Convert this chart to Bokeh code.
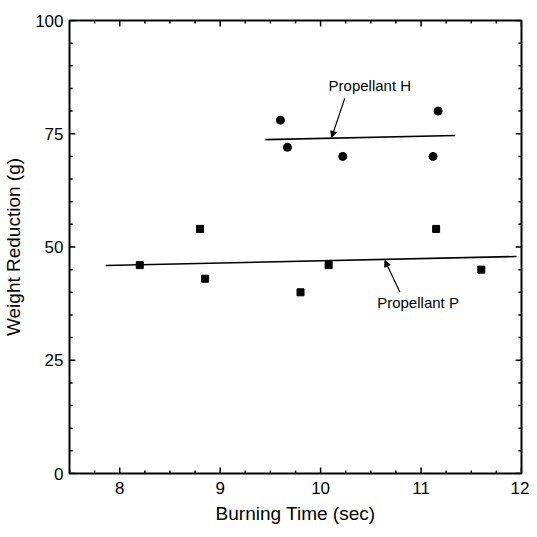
from bokeh.plotting import figure
from bokeh.models import Range1d, FixedTicker, Arrow, NormalHead, Label
from bokeh.embed import file_html
from bokeh.resources import INLINE

# Propellant P (squares)
p_time = [8.2, 8.8, 8.85, 9.8, 10.08, 11.15, 11.6]
p_weight = [46, 54, 43, 40, 46, 54, 45]
# Propellant H (circles)
h_time = [9.6, 9.67, 10.22, 11.12, 11.17]
h_weight = [78, 72, 70, 70, 80]
# fitted lines
p_fit_x = [7.86, 11.95]
p_fit_y = [45.9, 47.9]
h_fit_x = [9.45, 11.34]
h_fit_y = [73.7, 74.6]

x_ticks = [8, 9, 10, 11, 12]
y_ticks = [0, 25, 50, 75, 100]
x_minor = [7.5 + 0.25 * i for i in range(19) if (7.5 + 0.25 * i) not in x_ticks]
y_minor = [5 * i for i in range(21) if 5 * i not in y_ticks]

X0, X1, Y0, Y1 = 7.5, 12, 0, 100
FONT = "Liberation Sans"

p = figure(width=529, height=529, output_backend="svg", toolbar_location=None,
           x_range=Range1d(X0, X1), y_range=Range1d(Y0, Y1),
           min_border_left=68, min_border_right=8, min_border_top=20, min_border_bottom=56)
p.xgrid.visible = False
p.ygrid.visible = False
p.outline_line_color = "black"
p.outline_line_width = 2

p.line(p_fit_x, p_fit_y, line_color="black", line_width=1.6)
p.line(h_fit_x, h_fit_y, line_color="black", line_width=1.6)
p.scatter(p_time, p_weight, marker="square", size=7, fill_color="black", line_color="black")
p.scatter(h_time, h_weight, marker="circle", size=8, fill_color="black", line_color="black")

# inward tick marks on all four sides (lengths: ~6 px major, ~3 px minor)
def add_ticks(xt, yt, frac):
    ly = (Y1 - Y0) * frac
    lx = (X1 - X0) * frac
    x0 = [t for t in xt] * 2
    y0 = [Y0] * len(xt) + [Y1] * len(xt)
    y1 = [Y0 + ly] * len(xt) + [Y1 - ly] * len(xt)
    p.segment(x0=x0, y0=y0, x1=x0, y1=y1, line_color="black", line_width=1.5)
    yy = [t for t in yt] * 2
    xa0 = [X0] * len(yt) + [X1] * len(yt)
    xa1 = [X0 + lx] * len(yt) + [X1 - lx] * len(yt)
    p.segment(x0=xa0, y0=yy, x1=xa1, y1=yy, line_color="black", line_width=1.5)

add_ticks(x_ticks, y_ticks, 0.013)
add_ticks(x_minor, y_minor, 0.0068)

for ax, ticks in ((p.xaxis[0], x_ticks), (p.yaxis[0], y_ticks)):
    ax.ticker = FixedTicker(ticks=ticks)
    ax.axis_line_color = None
    ax.major_tick_line_color = None
    ax.minor_tick_line_color = None
    ax.major_tick_in = 0
    ax.major_tick_out = 0
    ax.minor_tick_in = 0
    ax.minor_tick_out = 0
    ax.major_label_text_font = FONT
    ax.major_label_text_font_size = "17px"
    ax.major_label_text_color = "black"
    ax.axis_label_text_font = FONT
    ax.axis_label_text_font_size = "19px"
    ax.axis_label_text_font_style = "normal"
    ax.axis_label_text_color = "black"

xa = p.xaxis[0]
ya = p.yaxis[0]
xa.axis_label = "Burning Time (sec)"
ya.axis_label = "Weight Reduction (g)"
xa.major_label_standoff = 8
xa.axis_label_standoff = 6
ya.major_label_standoff = 6
ya.axis_label_standoff = 8

# annotations
p.add_layout(Arrow(end=NormalHead(size=6, fill_color="black", line_color="black", line_width=1),
                   x_start=10.24, y_start=82.8, x_end=10.11, y_end=74.2,
                   line_color="black", line_width=1.2))
p.add_layout(Arrow(end=NormalHead(size=6, fill_color="black", line_color="black", line_width=1),
                   x_start=10.79, y_start=40.0, x_end=10.64, y_end=47.0,
                   line_color="black", line_width=1.2))
p.add_layout(Label(x=10.49, y=85.7, text="Propellant H", text_font=FONT, text_font_size="15px",
                   text_align="center", text_baseline="middle", text_color="black"))
p.add_layout(Label(x=10.97, y=37.7, text="Propellant P", text_font=FONT, text_font_size="15px",
                   text_align="center", text_baseline="middle", text_color="black"))

open("out.html", "w").write(file_html(p, INLINE))
